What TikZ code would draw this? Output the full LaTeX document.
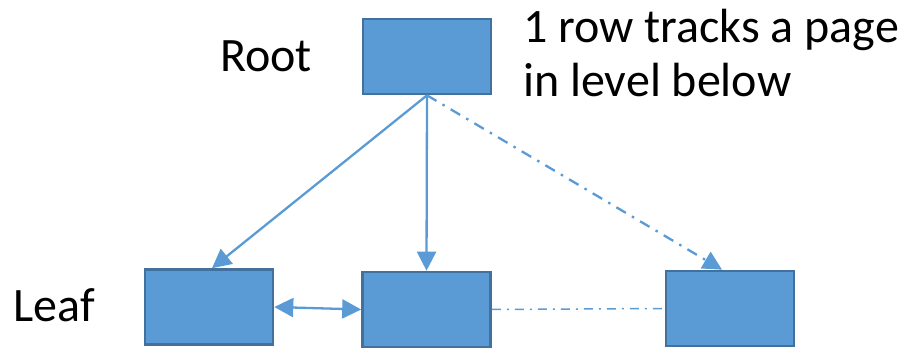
\documentclass[tikz,border=0pt]{standalone}
\usepackage{fontspec}
\setmainfont{Carlito}
\usetikzlibrary{arrows.meta}
\definecolor{boxfill}{HTML}{5B9BD5}
\definecolor{boxline}{HTML}{41719C}
\definecolor{conn}{HTML}{5B9BD5}
\tikzset{
  pagebox/.style={draw=boxline, fill=boxfill, line width=2.6pt, minimum width=128pt, minimum height=75pt, inner sep=0pt},
  lbl/.style={inner sep=0pt, anchor=base west, font=\fontsize{48}{57}\selectfont},
  conline/.style={draw=conn, line width=2.3pt},
  bigtri/.tip={Triangle[length=19pt,width=19pt]},
  tip/.style={-bigtri},
  dashdot/.style={dash pattern=on 11pt off 7pt on 2.5pt off 7pt}
}
\begin{document}
\begin{tikzpicture}[x=1pt,y=1pt]
\useasboundingbox (0,0) rectangle (907,350);
\node[pagebox] (root) at (427,293.5) {};
\node[pagebox] (leaf1) at (209,43) {};
\node[pagebox] (leaf2) at (426.5,40.5) {};
\node[pagebox] (leaf3) at (730,41.5) {};
\node[lbl] (rootlbl) at (220,278) {Root};
\node[lbl] (leaflbl) at (13,28) {Leaf};
\node[lbl] (note1) at (523,307) {1 row tracks a page};
\node[lbl] (note2) at (523,253) {in level below};
\draw[conline,tip] (root.south) -- ([xshift=3pt]leaf1.north);
\draw[conline,tip] (root.south) -- (leaf2.north);
\draw[conline,tip,dashdot] (root.south) -- ([xshift=-8pt]leaf3.north);
\draw[conline,bigtri-bigtri] (leaf1.east) -- (leaf2.west);
\draw[conn,line width=1.5pt,dash pattern=on 9pt off 6pt on 2pt off 6pt] (leaf2.east) -- (leaf3.west);
\end{tikzpicture}
\end{document}
